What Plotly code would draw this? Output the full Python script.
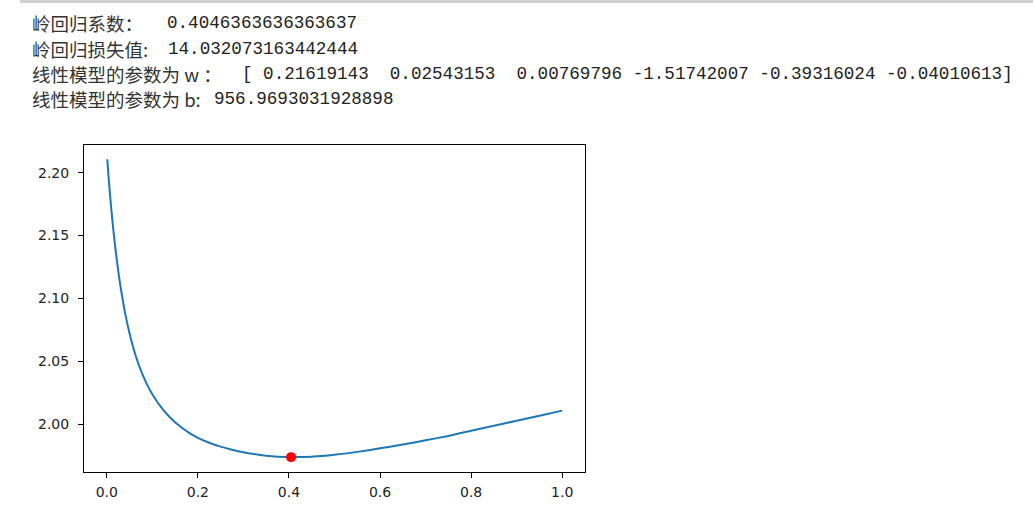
import plotly.graph_objects as go

# ---- data ----
alphas = [0.001, 0.005, 0.010, 0.015, 0.020, 0.025, 0.030, 0.040, 0.050, 0.060,
          0.070, 0.080, 0.090, 0.100, 0.120, 0.140, 0.160, 0.180, 0.200, 0.225,
          0.250, 0.275, 0.300, 0.350, 0.405, 0.450, 0.500, 0.550, 0.600, 0.650,
          0.700, 0.750, 0.800, 0.850, 0.900, 0.950, 1.000]
losses = [2.2107, 2.1917, 2.1707, 2.1525, 2.1365, 2.1224, 2.1099, 2.0889, 2.0722, 2.0586,
          2.0475, 2.0383, 2.0305, 2.0239, 2.0132, 2.0050, 1.9985, 1.9933, 1.9892, 1.9853,
          1.9822, 1.9797, 1.9777, 1.9750, 1.9739, 1.9742, 1.9757, 1.9780, 1.9808, 1.9839,
          1.9872, 1.9907, 1.9948, 1.9988, 2.0028, 2.0068, 2.0108]
best_alpha = [0.4046363636363637]
best_loss = [1.9738]

x_ticks = [0.0, 0.2, 0.4, 0.6, 0.8, 1.0]
x_tick_labels = ["0.0", "0.2", "0.4", "0.6", "0.8", "1.0"]
y_ticks = [2.00, 2.05, 2.10, 2.15, 2.20]
y_tick_labels = ["2.00", "2.05", "2.10", "2.15", "2.20"]

line_prefixes = ["岭回归系数：", "岭回归损失值:", "线性模型的参数为 w ：", "线性模型的参数为 b:"]
line_values = ["0.4046363636363637", "14.032073163442444",
               "[ 0.21619143  0.02543153  0.00769796 -1.51742007 -0.39316024 -0.04010613]",
               "956.9693031928898"]

# ---- layout geometry (pixels) ----
W, H = 1033, 508
L, R, T, B = 84, 585, 145, 472


def px2x(px):
    return (px - L) / (R - L)


def py2y(py):
    return (B - py) / (B - T)


line_y = [23, 48.5, 74, 99]
value_x = [165, 166, 240, 212]

fig = go.Figure()
fig.add_trace(go.Scatter(x=alphas, y=losses, mode="lines",
                         line=dict(color="#1f77b4", width=2, shape="spline", smoothing=0.6),
                         hoverinfo="skip"))
fig.add_trace(go.Scatter(x=best_alpha, y=best_loss, mode="markers",
                         marker=dict(color="red", size=10, line=dict(width=0))))

axis_common = dict(ticks="outside", ticklen=5, tickwidth=1, tickcolor="#000",
                   showline=True, linecolor="#000", linewidth=1, mirror=True,
                   showgrid=False, zeroline=False, automargin=False,
                   tickfont=dict(family="DejaVu Sans", size=14, color="#222"))

fig.update_layout(
    width=W, height=H, template="none",
    margin=dict(l=L, r=W - R, t=T, b=H - B, pad=0),
    paper_bgcolor="white", plot_bgcolor="white", showlegend=False,
    xaxis=dict(range=[-0.05, 1.05], tickvals=x_ticks, ticktext=x_tick_labels,
               ticklabelstandoff=2, **axis_common),
    yaxis=dict(range=[1.962, 2.222], tickvals=y_ticks, ticktext=y_tick_labels,
               ticklabelstandoff=6, **axis_common),
)

annotations = []
for i in range(4):
    annotations.append(dict(x=px2x(30), y=py2y(line_y[i]), xref="paper", yref="paper",
                            xanchor="left", yanchor="middle", showarrow=False,
                            text=line_prefixes[i],
                            font=dict(family="Noto Sans CJK SC", size=18.5, color="#333")))
    annotations.append(dict(x=px2x(value_x[i]), y=py2y(line_y[i]), xref="paper", yref="paper",
                            xanchor="left", yanchor="middle", showarrow=False,
                            text=line_values[i].replace(" ", "&nbsp;"),
                            font=dict(family="Liberation Mono", size=17.6, color="#222")))
fig.update_layout(annotations=annotations)

fig.add_shape(type="rect", xref="paper", yref="paper",
              x0=px2x(20), x1=px2x(1033), y0=py2y(3), y1=py2y(0),
              fillcolor="#cfcfcf", line=dict(width=0), layer="above")

fig.write_html("out.html", config={"displayModeBar": False},
               post_script="document.body.style.margin='0px';")
